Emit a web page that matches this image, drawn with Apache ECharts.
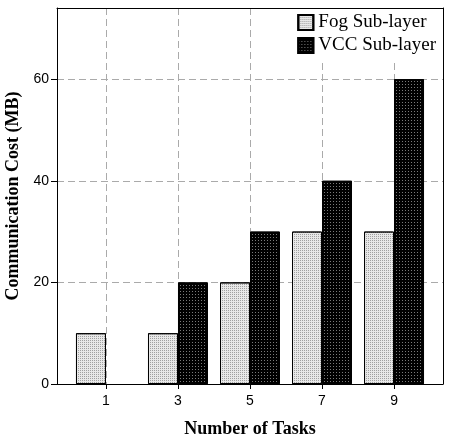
<!DOCTYPE html>
<html>
<head>
<meta charset="utf-8">
<script src="https://cdn.jsdelivr.net/npm/echarts@6/dist/echarts.min.js"></script>
<style>
  html, body { margin: 0; padding: 0; background: #fff; }
  #chart { width: 450px; height: 442px; }
</style>
</head>
<body>
<div id="chart"></div>
<script>
// data
var tasks = [1, 3, 5, 7, 9];
var fogCost = [10, 10, 20, 30, 30];
var vccCost = [0, 20, 30, 40, 60];
var yTicks = [0, 20, 40, 60];

var serif = '"Liberation Serif", "Times New Roman", serif';
var sans = '"Liberation Sans", Arial, sans-serif';

function pairs(vals) {
    var out = [];
    for (var i = 0; i < tasks.length; i++) {
        // a zero bar is not drawn in the original
        out.push([tasks[i], vals[i] === 0 ? null : vals[i]]);
    }
    return out;
}

var gridLine = { show: true, lineStyle: { color: '#aaa', type: [7, 4], width: 1 } };
var frameAxis = {
    show: true,
    axisLine: { show: true, onZero: false, lineStyle: { color: '#000', width: 1 } },
    axisTick: { show: false },
    axisLabel: { show: false },
    splitLine: { show: false }
};

var myChart = echarts.init(document.getElementById('chart'), null, { renderer: 'canvas' });

var option = {
    backgroundColor: '#fff',
    animation: false,
    grid: { left: 57, right: 7, top: 8, bottom: 58, containLabel: false, outerBoundsMode: 'none' },
    legend: {
        orient: 'vertical',
        right: 10,
        top: 9,
        itemWidth: 15,
        itemHeight: 15,
        itemGap: 4,
        icon: 'rect',
        backgroundColor: '#fff',
        padding: [4, 4, 5, 5],
        textStyle: { fontFamily: serif, fontSize: 19, color: '#000' },
        data: ['Fog Sub-layer', 'VCC Sub-layer']
    },
    xAxis: [
        {
            type: 'value',
            min: -0.36,
            max: 10.36,
            name: 'Number of Tasks',
            nameLocation: 'middle',
            nameGap: 36,
            nameTextStyle: { fontFamily: serif, fontSize: 18, fontWeight: 'bold', color: '#000' },
            axisLine: { show: true, onZero: false, lineStyle: { color: '#000', width: 1 } },
            axisTick: { show: true, customValues: tasks, length: 5, lineStyle: { color: '#000' } },
            axisLabel: {
                customValues: tasks,
                fontFamily: sans, fontSize: 14, color: '#000', margin: 10
            },
            splitLine: gridLine
        },
        Object.assign({ type: 'value', position: 'top', min: -0.36, max: 10.36 }, frameAxis)
    ],
    yAxis: [
        {
            type: 'value',
            min: 0,
            max: 74,
            name: 'Communication Cost (MB)',
            nameLocation: 'middle',
            nameGap: 33,
            nameTextStyle: { fontFamily: serif, fontSize: 18, fontWeight: 'bold', color: '#000' },
            axisLine: { show: true, onZero: false, lineStyle: { color: '#000', width: 1 } },
            axisTick: { show: true, customValues: yTicks, length: 6, lineStyle: { color: '#000' } },
            axisLabel: {
                customValues: yTicks,
                fontFamily: sans, fontSize: 14, color: '#000', margin: 8
            },
            splitLine: gridLine
        },
        Object.assign({ type: 'value', position: 'right', min: 0, max: 74 }, frameAxis)
    ],
    series: [
        {
            name: 'Fog Sub-layer',
            type: 'bar',
            barWidth: 30,
            barGap: '0%',
            data: pairs(fogCost),
            itemStyle: {
                color: '#e8e8e8',
                borderColor: '#000',
                borderWidth: 1,
                decal: {
                    symbol: 'rect',
                    symbolSize: 1,
                    color: '#a0a0a0',
                    dashArrayX: [1, 1],
                    dashArrayY: [1, 1],
                    rotation: 0
                }
            }
        },
        {
            name: 'VCC Sub-layer',
            type: 'bar',
            barWidth: 30,
            barGap: '0%',
            data: pairs(vccCost),
            itemStyle: {
                color: '#000',
                borderColor: '#000',
                borderWidth: 1,
                decal: {
                    symbol: 'rect',
                    symbolSize: 1,
                    color: '#7a7a7a',
                    dashArrayX: [1, 2],
                    dashArrayY: [1, 2],
                    rotation: 0
                }
            }
        }
    ]
};

myChart.setOption(option);
</script>
</body>
</html>
